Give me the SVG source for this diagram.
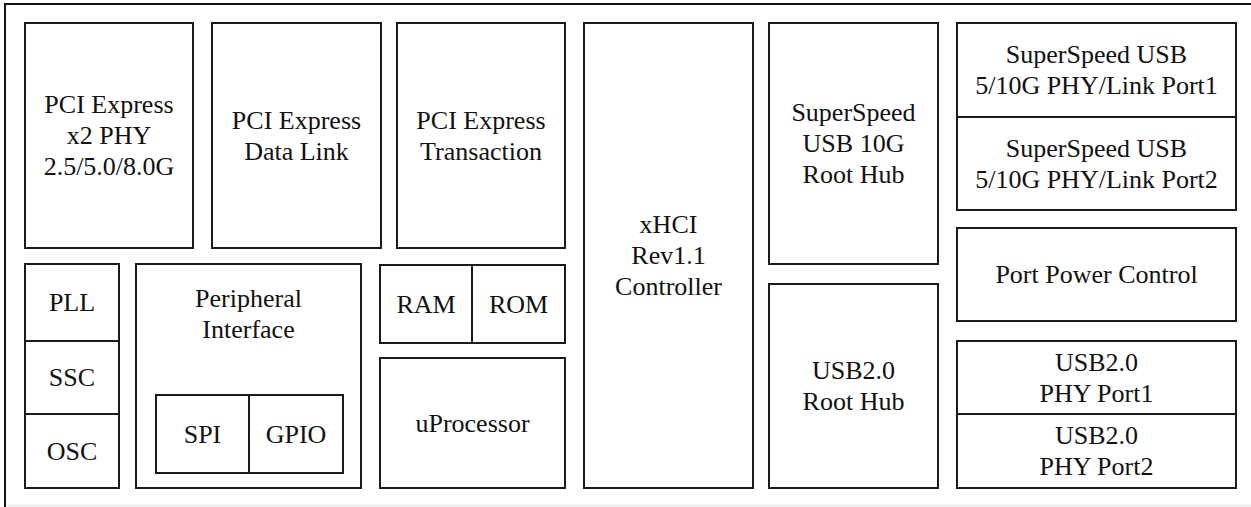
<svg xmlns="http://www.w3.org/2000/svg" width="1251" height="507" viewBox="0 0 1251 507">
<style>
.b{fill:#fff;stroke:#1a1a1a;stroke-width:2}
</style>
<rect x="0" y="0" width="1251" height="507" fill="#fff"/>
<g id="frame">
<line x1="6" y1="505.5" x2="1251" y2="505.5" stroke="#e6e6e6" stroke-width="1.5"/>
<path d="M5 507 V4 H1251" fill="none" stroke="#111" stroke-width="2"/>
</g>
<g id="connectors"></g>
<g font-family="Liberation Serif" font-size="26" fill="#111" text-anchor="middle">
<g id="pcie-phy"><rect class="b" x="25" y="23" width="168" height="225"/><text x="109" y="113">PCI Express</text><text x="109" y="144">x2 PHY</text><text x="109" y="175">2.5/5.0/8.0G</text></g>
<g id="pcie-dl"><rect class="b" x="212" y="23" width="169" height="225"/><text x="296.5" y="128.5">PCI Express</text><text x="296.5" y="159.7">Data Link</text></g>
<g id="pcie-tl"><rect class="b" x="397" y="23" width="168" height="225"/><text x="481" y="128.5">PCI Express</text><text x="481" y="159.7">Transaction</text></g>
<g id="xhci"><rect class="b" x="584" y="23" width="169" height="465"/><text x="668.5" y="233">xHCI</text><text x="668.5" y="264">Rev1.1</text><text x="668.5" y="295">Controller</text></g>
<g id="ss-hub"><rect class="b" x="769" y="23" width="169" height="241"/><text x="853.5" y="121">SuperSpeed</text><text x="853.5" y="152">USB 10G</text><text x="853.5" y="183">Root Hub</text></g>
<g id="ss-phy1"><rect class="b" x="957" y="23" width="279" height="94"/><text x="1096.5" y="63">SuperSpeed USB</text><text x="1096.5" y="94.2">5/10G PHY/Link Port1</text></g>
<g id="ss-phy2"><rect class="b" x="957" y="117" width="279" height="93"/><text x="1096.5" y="156.5">SuperSpeed USB</text><text x="1096.5" y="187.7">5/10G PHY/Link Port2</text></g>
<g id="ppc"><rect class="b" x="957" y="228" width="279" height="93"/><text x="1096.5" y="283">Port Power Control</text></g>
<g id="usb2-phy1"><rect class="b" x="957" y="341" width="279" height="73"/><text x="1096.5" y="370.5">USB2.0</text><text x="1096.5" y="401.7">PHY Port1</text></g>
<g id="usb2-phy2"><rect class="b" x="957" y="414" width="279" height="74"/><text x="1096.5" y="444">USB2.0</text><text x="1096.5" y="475.2">PHY Port2</text></g>
<g id="usb2-hub"><rect class="b" x="769" y="284" width="169" height="204"/><text x="853.5" y="379">USB2.0</text><text x="853.5" y="410.2">Root Hub</text></g>
<g id="pll"><rect class="b" x="25" y="264" width="94" height="77"/><text x="72" y="311">PLL</text></g>
<g id="ssc"><rect class="b" x="25" y="341" width="94" height="73"/><text x="72" y="386">SSC</text></g>
<g id="osc"><rect class="b" x="25" y="414" width="94" height="74"/><text x="72" y="459.6">OSC</text></g>
<g id="peripheral"><rect class="b" x="136" y="264" width="225" height="224"/><text x="248.5" y="306.5">Peripheral</text><text x="248.5" y="337.7">Interface</text></g>
<g id="spi"><rect class="b" x="156" y="395" width="93" height="78"/><text x="202.5" y="442.6">SPI</text></g>
<g id="gpio"><rect class="b" x="249" y="395" width="94" height="78"/><text x="296" y="442.6">GPIO</text></g>
<g id="ram"><rect class="b" x="380" y="265" width="92" height="78"/><text x="426" y="312.6">RAM</text></g>
<g id="rom"><rect class="b" x="472" y="265" width="93" height="78"/><text x="518.5" y="312.6">ROM</text></g>
<g id="uproc"><rect class="b" x="380" y="358" width="185" height="130"/><text x="472.5" y="431.6">uProcessor</text></g>
</g>
</svg>
